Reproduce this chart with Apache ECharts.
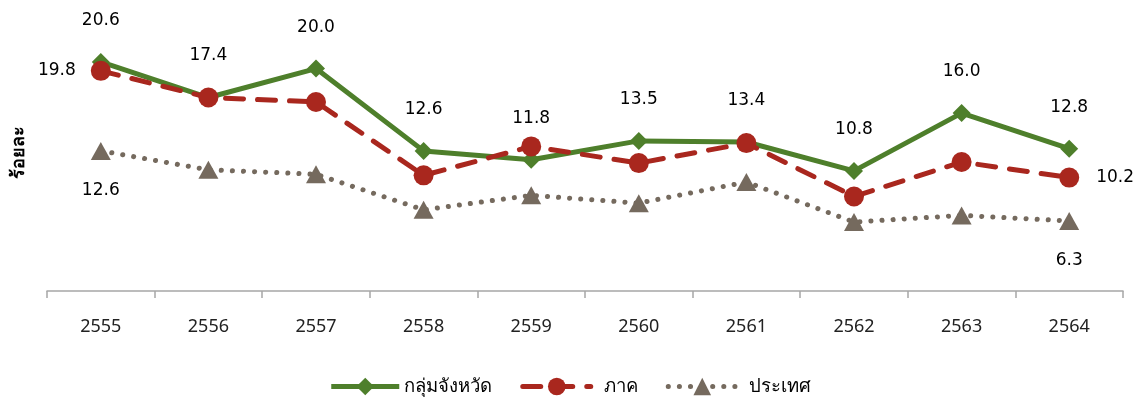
<!DOCTYPE html>
<html>
<head>
<meta charset="utf-8">
<script src="https://cdn.jsdelivr.net/npm/echarts@6/dist/echarts.min.js"></script>
<style>
html,body{margin:0;padding:0;background:#fff;}
#c{width:1140px;height:401px;}
</style>
</head>
<body>
<div id="c"></div>
<script>
const categories = ['2555','2556','2557','2558','2559','2560','2561','2562','2563','2564'];
const seriesNames = ['กลุ่มจังหวัด','ภาค','ประเทศ'];
const provGroup = [20.6,17.4,20.0,12.6,11.8,13.5,13.4,10.8,16.0,12.8];
const region    = [19.8,17.4,17.0,10.4,13.0,11.5,13.3,8.5,11.6,10.2];
const country   = [12.6,10.9,10.5,7.3,8.6,7.9,9.8,6.2,6.8,6.3];
const yName = 'ร้อยละ';

const FONT = '"Noto Sans", "DejaVu Sans", sans-serif';
const LFONT = '"DejaVu Sans", "Noto Sans", sans-serif';
const labelBase = {show:true, color:'#000', fontSize:17, fontFamily:LFONT, formatter: p => p.value.toFixed(1)};

const greenData = provGroup.map(v => ({value:v, label:Object.assign({}, labelBase, {position:'top', distance:24})}));
const redData = region.map((v,i) => {
  if (i === 0) return {value:v, label:Object.assign({}, labelBase, {position:'left', distance:15})};
  if (i === region.length-1) return {value:v, label:Object.assign({}, labelBase, {position:'right', distance:17})};
  return v;
});
const greyData = country.map((v,i) => {
  if (i === 0 || i === country.length-1) return {value:v, label:Object.assign({}, labelBase, {position:'bottom', distance:22})};
  return v;
});

const legendText = {fontSize:18.5, color:'#000', fontFamily:FONT};
const chart = echarts.init(document.getElementById('c'), null, {renderer:'canvas'});
chart.setOption({
  animation:false,
  backgroundColor:'#fff',
  textStyle:{fontFamily:FONT},
  grid:{left:47, right:17, top:13, bottom:110, containLabel:false, outerBoundsMode:'none'},
  legend:{
    bottom:0, left:'center',
    itemWidth:68, itemHeight:22, itemGap:28,
    lineStyle:{width:5},
    textStyle:legendText,
    data:[
      {name:seriesNames[0]},
      {name:seriesNames[1], textStyle:Object.assign({}, legendText, {padding:[0,0,0,8]})},
      {name:seriesNames[2], textStyle:Object.assign({}, legendText, {padding:[0,0,0,8]})}
    ]
  },
  xAxis:{
    type:'category', data:categories, boundaryGap:true,
    axisLine:{lineStyle:{color:'#A6A6A6', width:1.5}},
    axisTick:{show:true, length:7, lineStyle:{color:'#A6A6A6', width:1.5}},
    axisLabel:{color:'#222', fontSize:18, margin:27, fontFamily:FONT}
  },
  yAxis:{
    type:'value', min:0, max:25,
    name:yName, nameLocation:'middle', nameRotate:90, nameGap:19,
    nameTextStyle:{fontSize:18, fontWeight:'bold', color:'#000', fontFamily:FONT},
    axisLine:{show:false}, axisTick:{show:false}, axisLabel:{show:false}, splitLine:{show:false}
  },
  series:[
    {
      name:seriesNames[0], type:'line', data:greenData, z:3,
      symbol:'diamond', symbolSize:18,
      itemStyle:{color:'#4E7F2B'},
      lineStyle:{color:'#4E7F2B', width:5}
    },
    {
      name:seriesNames[1], type:'line', data:redData, z:4,
      symbol:'circle', symbolSize:20,
      itemStyle:{color:'#A9271E'},
      lineStyle:{color:'#A9271E', width:5, type:[18,14], cap:'round'}
    },
    {
      name:seriesNames[2], type:'line', data:greyData, z:2,
      symbol:'triangle', symbolSize:[20,18],
      itemStyle:{color:'#756A5E'},
      lineStyle:{color:'#756A5E', width:5, type:[0.1,11], cap:'round'}
    }
  ]
});
</script>
</body>
</html>
